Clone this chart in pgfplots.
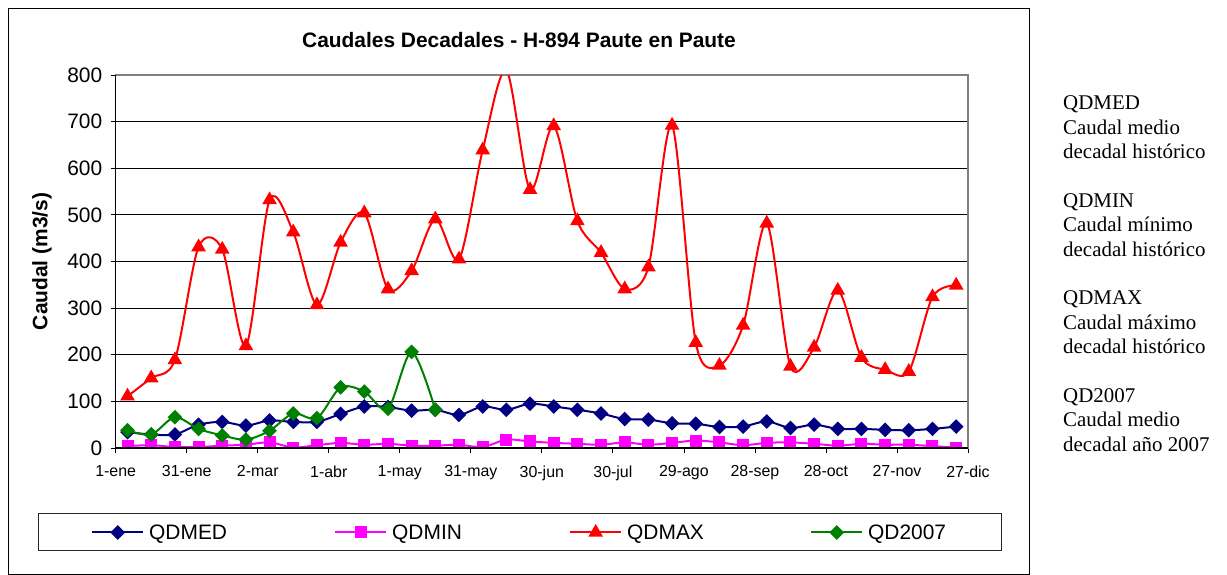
\documentclass[border=0pt]{standalone}
\usepackage{pgfplots}
\pgfplotsset{compat=1.18}
\usepackage{pgfplotstable}
\usepackage{fontspec}
\setmainfont{Liberation Serif}
\newfontfamily\arial{Liberation Sans}

\definecolor{cmed}{RGB}{0,0,128}
\definecolor{cmin}{RGB}{255,0,255}
\definecolor{cmax}{RGB}{255,0,0}
\definecolor{cq07}{RGB}{0,128,0}

\pgfplotstableread{
x    med min max
0.5  34  4   111
1.5  29  6   150
2.5  29  2   189
3.5  50  2   431
4.5  56  5   426
5.5  48  7   219
6.5  59  12  532
7.5  56  1   463
8.5  56  6   307
9.5  73  11  441
10.5 89  7   504
11.5 88  9   341
12.5 80  5   380
13.5 82  5   491
14.5 71  7   405
15.5 89  2   639
16.5 82  18  810
17.5 95  14  554
18.5 89  11  691
19.5 82  9   487
20.5 74  7   419
21.5 62  12  341
22.5 61  7   388
23.5 53  11  692
24.5 52  16  226
25.5 45  12  177
26.5 46  6   263
27.5 57  11  482
28.5 43  12  175
29.5 50  9   216
30.5 41  5   338
31.5 41  9   194
32.5 39  7   168
33.5 38  7   164
34.5 41  4   324
35.5 46  1   349
}\datatbl

\pgfplotstableread{
x    q
0.5  38
1.5  29
2.5  66
3.5  41
4.5  27
5.5  18
6.5  37
7.5  74
8.5  64
9.5  130
10.5 121
11.5 84
12.5 206
13.5 82
}\dseven

\begin{document}
\begin{tikzpicture}
\draw[black, line width=1bp] (8bp,1bp) rectangle (1029bp,566bp);
\draw[black!85, line width=1bp] (38bp,24bp) rectangle (1001bp,61bp);
\begin{axis}[
  at={(115.7bp,127bp)}, anchor=south west,
  scale only axis, width=852.3bp, height=373bp,
  xmin=0, xmax=36, ymin=0, ymax=800,
  xtick={0,3,...,36},
  xticklabels={1-ene,31-ene,2-mar,1-abr,1-may,31-may,30-jun,30-jul,29-ago,28-sep,28-oct,27-nov,27-dic},
  ytick={0,100,...,800},
  tick pos=left, tick align=outside, major tick length=5bp,
  tick style={black, line width=0.8bp},
  ymajorgrids, grid style={black, line width=0.8bp},
  axis line style={gray, line width=1.3bp},
  font=\arial,
  /pgf/number format/assume math mode=true,
  yticklabel style={font=\arial\fontsize{21}{24}\selectfont, xshift=-5bp},
  xticklabel style={font=\arial\fontsize{16}{19}\selectfont, yshift=-9bp},
  title={Caudales Decadales - H-894 Paute en Paute},
  title style={font=\arial\bfseries\fontsize{21}{24}\selectfont, at={(axis description cs:0.4732,1.078)}, anchor=center},
  ylabel={Caudal (m3/s)},
  ylabel style={font=\arial\bfseries\fontsize{21}{24}\selectfont, at={(axis description cs:-0.0865,0.5)}, anchor=center},
  clip marker paths=true,
  legend columns=4,
  legend image code/.code={\draw[mark repeat=2,mark phase=2] plot coordinates {(0bp,0bp) (25.5bp,0bp) (51bp,0bp)};},
  legend style={draw=none, fill=none, at={(axis description cs:-0.02898,-0.2265)}, anchor=west, inner sep=0pt,
    font=\arial\fontsize{21}{24}\selectfont,
    /tikz/every odd column/.append style={column sep=3bp},
    /tikz/every even column/.append style={column sep=80bp},
    nodes={inner xsep=2bp}},
  after end axis/.code={\draw[black, line width=1.3bp] (rel axis cs:0,1) -- (rel axis cs:0,0) -- (rel axis cs:1,0);},
]
\addplot[color=cmed, line width=2bp, smooth, mark=square*, mark size=4.2bp, mark options={rotate=45, solid}] table[x=x, y=med] {\datatbl};
\addplot[color=cmin, line width=2bp, smooth, mark=square*, mark size=5bp, mark options={solid}] table[x=x, y=min] {\datatbl};
\addplot[color=cmax, line width=2bp, smooth, mark=triangle*, mark size=6.5bp, mark options={solid}] table[x=x, y=max] {\datatbl};
\addplot[color=cq07, line width=2bp, smooth, mark=square*, mark size=4.2bp, mark options={rotate=45, solid}] table[x=x, y=q] {\dseven};
\legend{\makebox[103bp][l]{QDMED},\makebox[95bp][l]{QDMIN},\makebox[101bp][l]{QDMAX},\makebox[90bp][l]{QD2007}}
\end{axis}
\begin{scope}[every node/.style={anchor=base west, inner sep=0pt, font=\rmfamily\fontsize{21}{24}\selectfont}]
\node at (1063bp,465bp) {QDMED};
\node at (1063bp,440.5bp) {Caudal medio};
\node at (1063bp,416bp) {decadal histórico};
\node at (1063bp,367.5bp) {QDMIN};
\node at (1063bp,343bp) {Caudal mínimo};
\node at (1063bp,318.5bp) {decadal histórico};
\node at (1063bp,270bp) {QDMAX};
\node at (1063bp,245.5bp) {Caudal máximo};
\node at (1063bp,221bp) {decadal histórico};
\node at (1063bp,172.5bp) {QD2007};
\node at (1063bp,148bp) {Caudal medio};
\node at (1063bp,123.5bp) {decadal año 2007};
\end{scope}
\pgfresetboundingbox
\path[use as bounding box] (0bp,0bp) rectangle (1227bp,575bp);
\end{tikzpicture}
\end{document}
